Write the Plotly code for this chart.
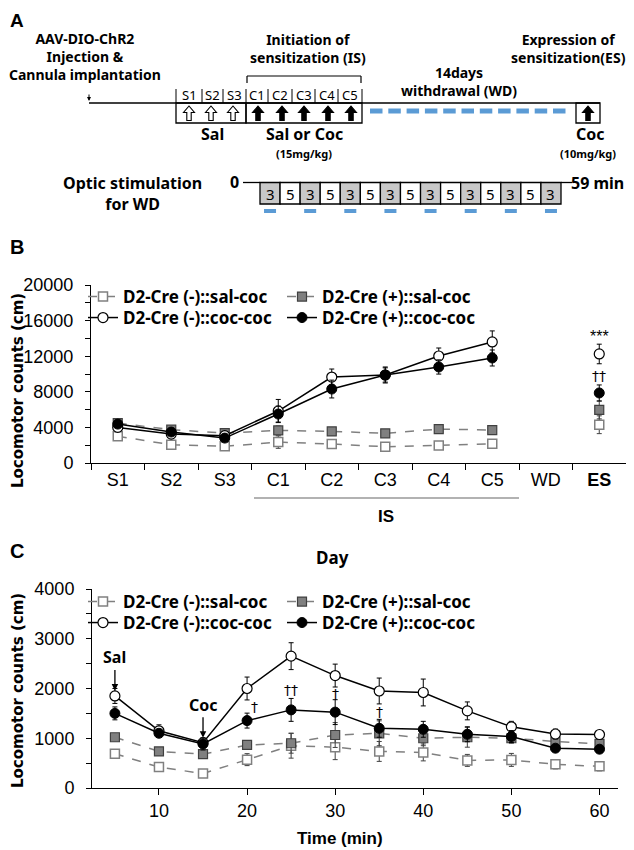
import plotly.graph_objects as go

# the page body has an 8px margin, so the figure starts 8px in: map reference pixels accordingly
OFF = 8
FW, FH = 634, 850
def X(px): return (px - OFF) / FW
def Y(py): return 1 - (py - OFF) / FH

KF = "Noto Sans"
AF = "Liberation Sans"

# ---------------- data: panel B ----------------
days = ["S1", "S2", "S3", "C1", "C2", "C3", "C4", "C5", "WD", "ES"]
day_labels = ["S1", "S2", "S3", "C1", "C2", "C3", "C4", "C5", "WD", "<b>ES</b>"]
b_neg_sal = [3000, 2050, 1870, 2350, 2130, 1830, 1980, 2170, None, 4300]
b_neg_sal_err = [300, 250, 250, 700, 300, 250, 250, 250, None, 1000]
b_pos_sal = [4490, 3740, 3360, 3660, 3550, 3330, 3810, 3700, None, 5960]
b_pos_sal_err = [300, 350, 300, 500, 400, 300, 300, 300, None, 1000]
b_neg_coc = [4000, 3250, 3070, 5840, 9660, 9890, 12020, 13600, None, 12250]
b_neg_coc_err = [400, 400, 400, 1300, 900, 900, 900, 1240, None, 1100]
b_pos_coc = [4370, 3480, 2800, 5500, 8310, 9890, 10790, 11800, None, 7870]
b_pos_coc_err = [300, 300, 300, 900, 1000, 800, 800, 900, None, 900]

# ---------------- data: panel C ----------------
minutes = [5, 10, 15, 20, 25, 30, 35, 40, 45, 50, 55, 60]
c_neg_sal = [690, 420, 290, 570, 850, 820, 735, 715, 555, 565, 475, 435]
c_neg_sal_err = [60, 60, 50, 120, 250, 250, 200, 170, 120, 130, 90, 90]
c_pos_sal = [1020, 735, 680, 865, 900, 1065, 1100, 1000, 1020, 1000, 935, 885]
c_pos_sal_err = [60, 60, 60, 80, 200, 250, 250, 150, 200, 100, 100, 80]
c_neg_coc = [1850, 1150, 910, 2000, 2650, 2260, 1950, 1920, 1550, 1230, 1085, 1075]
c_neg_coc_err = [150, 120, 100, 230, 270, 230, 260, 270, 180, 110, 100, 70]
c_pos_coc = [1500, 1100, 885, 1355, 1570, 1525, 1200, 1180, 1080, 1035, 800, 780]
c_pos_coc_err = [130, 60, 120, 150, 230, 250, 180, 160, 150, 120, 70, 70]

series_names = ["D2-Cre (-)::sal-coc", "D2-Cre (+)::sal-coc",
                "D2-Cre (-)::coc-coc", "D2-Cre (+)::coc-coc"]

GRAY = "#808080"
styles = [
    dict(line=dict(color=GRAY, width=1.5, dash="dash"),
         marker=dict(symbol="square", size=9, color="white", line=dict(color=GRAY, width=1.5)),
         ecolor="#404040"),
    dict(line=dict(color=GRAY, width=1.5, dash="dash"),
         marker=dict(symbol="square", size=9, color=GRAY, line=dict(color="#404040", width=1.2)),
         ecolor="#404040"),
    dict(line=dict(color="black", width=1.5),
         marker=dict(symbol="circle", size=10, color="white", line=dict(color="black", width=1.2)),
         ecolor="black"),
    dict(line=dict(color="black", width=1.5),
         marker=dict(symbol="circle", size=10, color="black", line=dict(color="black", width=1)),
         ecolor="black"),
]

fig = go.Figure()

b_sets = [(b_neg_sal, b_neg_sal_err), (b_pos_sal, b_pos_sal_err),
          (b_neg_coc, b_neg_coc_err), (b_pos_coc, b_pos_coc_err)]
c_sets = [(c_neg_sal, c_neg_sal_err), (c_pos_sal, c_pos_sal_err),
          (c_neg_coc, c_neg_coc_err), (c_pos_coc, c_pos_coc_err)]

for i, ((vals, errs), st) in enumerate(zip(b_sets, styles)):
    fig.add_trace(go.Scatter(
        x=days, y=vals, name="<b>" + series_names[i] + "</b>", mode="lines+markers",
        line=st["line"], marker=st["marker"], connectgaps=False,
        error_y=dict(type="data", array=errs, color=st["ecolor"], thickness=1, width=2.5),
        xaxis="x", yaxis="y", legend="legend" if i == 0 else f"legend{i+1}",
        cliponaxis=False))

for i, ((vals, errs), st) in enumerate(zip(c_sets, styles)):
    fig.add_trace(go.Scatter(
        x=minutes, y=vals, name="<b>" + series_names[i] + "</b>", mode="lines+markers",
        line=st["line"], marker=st["marker"],
        error_y=dict(type="data", array=errs, color=st["ecolor"], thickness=1, width=2.5),
        xaxis="x2", yaxis="y2", legend=f"legend{i+5}", cliponaxis=False))

axis_common = dict(showline=True, linecolor="black", linewidth=1, showgrid=False,
                   zeroline=False, ticks="outside", tickcolor="black", ticklen=5,
                   tickfont=dict(family=AF, size=18, color="black"), automargin=False)

fig.update_layout(
    width=FW, height=FH, margin=dict(l=0, r=0, t=0, b=0, autoexpand=False),
    paper_bgcolor="white", plot_bgcolor="white", showlegend=True,
    xaxis=dict(axis_common, domain=[X(91), X(626)], anchor="y", type="category",
               categoryorder="array", categoryarray=days, tickvals=days, ticktext=day_labels,
               range=[-0.5, 9.5], tickson="boundaries", ticklen=6),
    yaxis=dict(axis_common, domain=[Y(463), Y(285)], anchor="x", range=[0, 20000],
               tickvals=[0, 4000, 8000, 12000, 16000, 20000], tickformat="d",
               ticklabelstandoff=8,
               minor=dict(dtick=2000, tick0=0, ticks="outside", ticklen=5, tickcolor="black")),
    xaxis2=dict(axis_common, domain=[X(92), X(618)], anchor="y2", range=[2.4, 62.1],
                tickvals=[10, 20, 30, 40, 50, 60], ticklen=6),
    yaxis2=dict(axis_common, domain=[Y(788), Y(589)], anchor="x2", range=[0, 4000],
                tickvals=[0, 1000, 2000, 3000, 4000], tickformat="d", ticklabelstandoff=8,
                minor=dict(dtick=500, tick0=0, ticks="outside", ticklen=5, tickcolor="black")),
)

# legends (one per entry, placed in a 2x2 grid)
leg_font = dict(family=KF, size=17, color="black")
leg_pos = [(83, 297), (282, 297), (83, 318), (282, 318),
           (83, 602), (282, 602), (83, 623), (282, 623)]
leg_layout = {}
for k, (lx, ly) in enumerate(leg_pos):
    key = "legend" if k == 0 else f"legend{k+1}"
    leg_layout[key] = dict(x=X(lx), y=Y(ly), xanchor="left", yanchor="middle",
                           bgcolor="rgba(0,0,0,0)", borderwidth=0, font=leg_font,
                           itemwidth=30, tracegroupgap=0)
fig.update_layout(**leg_layout)

ann = []
shapes = []

def txt(px, py, s, size=15, family=KF, bold=True, xanchor="center", angle=0, color="black"):
    if bold:
        s = "<br>".join("<b>%s</b>" % part for part in s.split("<br>"))
    ann.append(dict(x=X(px), y=Y(py), xref="paper", yref="paper",
                    text=s, showarrow=False, align="center",
                    xanchor=xanchor, yanchor="middle", textangle=angle,
                    font=dict(family=family, size=size, color=color)))

def line(x0, y0, x1, y1, color="black", width=1.3):
    shapes.append(dict(type="line", xref="paper", yref="paper",
                       x0=X(x0), y0=Y(y0), x1=X(x1), y1=Y(y1),
                       line=dict(color=color, width=width)))

def rect(x0, y0, x1, y1, fill="rgba(0,0,0,0)", lc="black", lw=1.3):
    shapes.append(dict(type="rect", xref="paper", yref="paper",
                       x0=X(x0), y0=Y(y0), x1=X(x1), y1=Y(y1),
                       fillcolor=fill, line=dict(color=lc if lc else "rgba(0,0,0,0)",
                                                 width=lw if lc else 0)))

def up_arrow(cx, filled):
    pts = [(cx, 106), (cx + 5.5, 112.5), (cx + 2.2, 112.5), (cx + 2.2, 120.5),
           (cx - 2.2, 120.5), (cx - 2.2, 112.5), (cx - 5.5, 112.5)]
    p = "M " + " L ".join("%.5f,%.5f" % (X(a), Y(b)) for a, b in pts) + " Z"
    shapes.append(dict(type="path", xref="paper", yref="paper", path=p,
                       fillcolor="black" if filled else "white",
                       line=dict(color="black", width=1.1)))

# ---------------- panel A ----------------
txt(8, 21, "A", size=19, family=AF, xanchor="left")
txt(85, 57, "AAV-DIO-ChR2<br>Injection &amp;<br>Cannula implantation", size=14)
ann.append(dict(x=X(89), y=Y(101), xref="paper", yref="paper", ax=0, ay=-8,
                text="", showarrow=True,
                arrowhead=2, arrowsize=0.8, arrowwidth=1, arrowcolor="black"))
line(89, 103, 600, 103)
for xd in [176, 202, 223, 246, 268, 292, 315, 338, 362]:
    line(xd, 89, xd, 103, width=1)
for lab, cx in zip(["S1", "S2", "S3", "C1", "C2", "C3", "C4", "C5"],
                   [189, 212.5, 234.5, 257, 280, 303.5, 326.5, 350]):
    txt(cx, 95, lab, size=13, bold=False)
rect(176, 103, 246, 123)
rect(246, 103, 362, 123)
for cx in [189, 211, 233]:
    up_arrow(cx, False)
for cx in [258, 282, 304, 328, 351]:
    up_arrow(cx, True)
txt(212, 134, "Sal", size=16)
txt(304, 134, "Sal or Coc", size=16)
txt(304, 153.5, "(15mg/kg)", size=11)
line(247, 76, 361, 76, width=1.2)
line(247, 76, 247, 83, width=1.2)
line(361, 76, 361, 83, width=1.2)
txt(308, 49, "Initiation of<br>sensitization (IS)", size=14)
txt(459, 82, "14days<br>withdrawal (WD)", size=14)
for k in range(11):
    x0 = 370 + k * 18.3
    rect(x0, 108.5, x0 + 12.5, 113.5, fill="#5B9BD5", lc=None)
rect(576, 103, 600, 123)
up_arrow(588, True)
txt(628, 49, "Expression of<br>sensitization(ES)", size=14, xanchor="right")
txt(590, 134, "Coc", size=16)
txt(588, 153.5, "(10mg/kg)", size=11)

txt(132, 193, "Optic stimulation<br>for WD", size=16)
txt(234, 182, "0", size=16)
txt(626, 183, "59 min", size=16, xanchor="right")
line(243, 182.5, 260, 182.5)
line(561, 182.5, 572, 182.5)
bw = (561 - 260) / 15
for k in range(15):
    x0 = 260 + k * bw
    gray = (k % 2 == 0)
    rect(x0, 182.5, x0 + bw, 204, fill="#C8C8C8" if gray else "white")
    txt(x0 + bw / 2, 193.5, "3" if gray else "5", size=15, bold=False)
    if gray:
        rect(x0 + bw / 2 - 6, 209, x0 + bw / 2 + 6, 213, fill="#5B9BD5", lc=None)

# ---------------- panel B extras ----------------
txt(8, 247, "B", size=20, family=AF, xanchor="left")
txt(18, 391, "Locomotor counts (cm)", size=15, family="DejaVu Sans", angle=-90)
line(254, 498, 519, 498, color="#999999", width=1.5)
txt(386, 516, "IS", size=17, family=AF)
ann.append(dict(x="ES", y=14200, xref="x", yref="y", text="***", showarrow=False,
                font=dict(family=AF, size=16, color="black")))
ann.append(dict(x="ES", y=9800, xref="x", yref="y", text="††", showarrow=False,
                font=dict(family="DejaVu Sans", size=14, color="black")))

# ---------------- panel C extras ----------------
txt(8, 551, "C", size=20, family=AF, xanchor="left")
txt(332, 557, "Day", size=17)
txt(18, 691, "Locomotor counts (cm)", size=15, family="DejaVu Sans", angle=-90)
txt(340, 838, "Time (min)", size=17, family=AF)
for t, label, yv in [(5, "Sal", 1960), (15, "Coc", 1010)]:
    ann.append(dict(x=t, y=yv, xref="x2", yref="y2", text="<b>%s</b>" % label,
                    showarrow=True, ax=0, ay=-33, arrowhead=2, arrowsize=1,
                    arrowwidth=1.3, arrowcolor="black", standoff=0,
                    font=dict(family=KF, size=16, color="black")))
for t, yv, s in [(20.8, 1620, "†"), (25, 1970, "††"), (30, 1880, "†"), (35, 1530, "†")]:
    ann.append(dict(x=t, y=yv, xref="x2", yref="y2", text=s, showarrow=False,
                    font=dict(family="DejaVu Sans", size=14, color="black")))

fig.update_layout(annotations=ann, shapes=shapes)
fig.write_html("out.html")
